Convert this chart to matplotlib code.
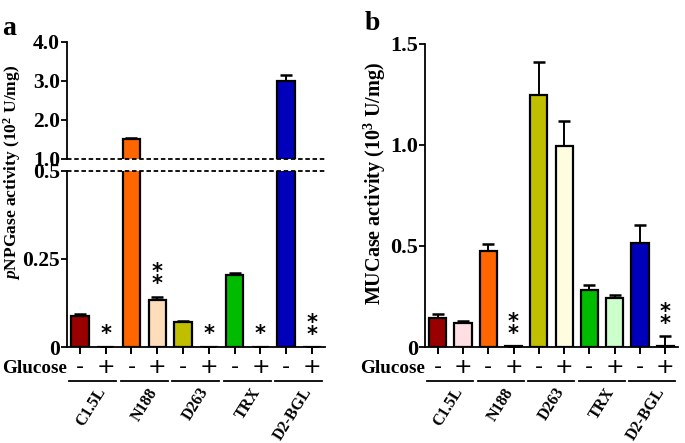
import matplotlib
matplotlib.use('Agg')
import matplotlib.pyplot as plt
import numpy as np
from matplotlib.transforms import blended_transform_factory, offset_copy

plt.rcParams['font.family'] = 'Liberation Serif'
plt.rcParams['font.weight'] = 'bold'
plt.rcParams['mathtext.fontset'] = 'custom'
plt.rcParams['mathtext.rm'] = 'Liberation Serif:bold'
plt.rcParams['mathtext.bf'] = 'Liberation Serif:bold'
plt.rcParams['mathtext.it'] = 'Liberation Serif:italic:bold'

groups = ['C1.5L', 'N188', 'D263', 'TRX', 'D2-BGL']
glucose = ['-', '+']

# panel a: pNPGase activity (10^2 U/mg)
pnp_minus = [0.088, 1.51, 0.071, 0.204, 3.0]
pnp_minus_err = [0.006, 0.02, 0.003, 0.006, 0.15]
pnp_plus = [0.0, 0.134, 0.0, 0.0, 0.0]
pnp_plus_err = [0.0, 0.009, 0.0, 0.0, 0.0]
pnp_stars = [1, 2, 1, 1, 2]

# panel b: MUCase activity (10^3 U/mg)
muc_minus = [0.144, 0.475, 1.248, 0.282, 0.515]
muc_minus_err = [0.019, 0.035, 0.165, 0.025, 0.09]
muc_plus = [0.119, 0.003, 0.995, 0.243, 0.003]
muc_plus_err = [0.011, 0.0, 0.125, 0.014, 0.051]
muc_stars = [0, 2, 0, 0, 2]

minus_colors = ['#990000', '#FF6600', '#BFBF00', '#00BB00', '#0000BB']
plus_colors_a = ['#FFE0E0', '#FFDDBB', '#FFFFE0', '#CCFFCC', '#CCCCFF']
plus_colors_b = ['#FFDFE3', '#FFE0C0', '#FFFDE0', '#CCFFCC', '#CCCCFF']


def interleave(a, b):
    return [v for pair in zip(a, b) for v in pair]


def draw_bars(ax, vals, errs, cols):
    x = np.arange(len(vals))
    ax.bar(x, vals, width=0.68, color=cols, edgecolor='black', linewidth=1.6, zorder=2)
    ax.errorbar(x, vals, yerr=[np.zeros(len(errs)), errs], fmt='none', ecolor='black',
                elinewidth=1.4, capsize=4, capthick=1.8, zorder=1)
    ax.set_xlim(-0.5, len(vals) - 0.5)


def px(fig, ax, dy):
    trans = blended_transform_factory(ax.transData, ax.transAxes)
    return offset_copy(trans, fig=fig, y=dy * 0.72, units='points')


def bottom_decor(fig, ax):
    n = len(groups) * 2
    ax.set_xticks(np.arange(n))
    ax.set_xticklabels([])
    ax.tick_params(axis='x', length=5, width=1.4, direction='out')
    t_sign = px(fig, ax, -20)
    for i in range(n):
        ax.text(i, 0, glucose[i % 2], transform=t_sign, ha='center', va='center',
                fontsize=16, fontweight='normal', family='DejaVu Sans')
    ax.text(-0.5, 0, 'Glucose', transform=px(fig, ax, -21), ha='right', va='center', fontsize=13.8)
    t_line = px(fig, ax, -34)
    t_lab = px(fig, ax, -38)
    for g, name in enumerate(groups):
        ax.plot([2 * g - 0.42, 2 * g + 1.4], [0, 0], color='black', lw=1.3,
                transform=t_line, clip_on=False)
        ax.text(2 * g + 0.6, 0, name, transform=t_lab, ha='right', va='top',
                rotation=58, rotation_mode='anchor', fontsize=11.5)


def stars(fig, ax, vals, errs, counts):
    for g, c in enumerate(counts):
        if c == 0:
            continue
        top = vals[g] + errs[g]
        ax.annotate('\n'.join(['*'] * c), (2 * g + 1, top), xytext=(0, (13 + 5.5 * (c - 1)) * 0.72),
                    textcoords='offset points', ha='center', va='center', linespacing=0.5,
                    fontsize=15, fontweight='bold', family='DejaVu Sans')


fig = plt.figure(figsize=(6.85, 4.43), dpi=100)

# panel a, broken axis
axt = fig.add_axes([0.0978, 0.6411, 0.3766, 0.2641])
axb = fig.add_axes([0.0978, 0.2167, 0.3766, 0.3973])
va = interleave(pnp_minus, pnp_plus)
ea = interleave(pnp_minus_err, pnp_plus_err)
ca = interleave(minus_colors, plus_colors_a)
for ax in (axt, axb):
    draw_bars(ax, va, ea, ca)
    ax.spines['top'].set_visible(False)
    ax.spines['right'].set_visible(False)
    for s in ('left', 'bottom'):
        ax.spines[s].set_linewidth(1.3)
    ax.tick_params(axis='y', length=4, width=1.3, labelsize=15.5, pad=1)

axt.set_ylim(1.0, 4.0)
axt.set_yticks([1.0, 2.0, 3.0, 4.0])
axt.set_yticklabels(['1.0', '2.0', '3.0', '4.0'])
axt.spines['bottom'].set_visible(False)
axt.set_xticks([])
axt.axhline(1.0, color='black', ls=(0, (2.5, 1.5)), lw=1.3, clip_on=False)

axb.set_ylim(0, 0.5)
axb.set_yticks([0, 0.25, 0.5])
axb.set_yticklabels(['0', '0.25', '0.5'])
axb.axhline(0.5, color='black', ls=(0, (2.5, 1.5)), lw=1.3, clip_on=False, zorder=3)
bottom_decor(fig, axb)
stars(fig, axb, pnp_plus, pnp_plus_err, pnp_stars)

fig.text(0.017, 0.61, r'$\it{p}$NPGase activity (10$^{2}$ U/mg)', rotation=90,
         ha='center', va='center', fontsize=12.5)
fig.text(0.003, 0.965, 'a', fontsize=20, ha='left', va='top')

# panel b
ax2 = fig.add_axes([0.6204, 0.2167, 0.3693, 0.684])
vb = interleave(muc_minus, muc_plus)
eb = interleave(muc_minus_err, muc_plus_err)
cb = interleave(minus_colors, plus_colors_b)
draw_bars(ax2, vb, eb, cb)
ax2.spines['top'].set_visible(False)
ax2.spines['right'].set_visible(False)
for s in ('left', 'bottom'):
    ax2.spines[s].set_linewidth(1.3)
ax2.tick_params(axis='y', length=4, width=1.3, labelsize=16, pad=1)
ax2.set_ylim(0, 1.5)
ax2.set_yticks([0, 0.5, 1.0, 1.5])
ax2.set_yticklabels(['0', '0.5', '1.0', '1.5'])
bottom_decor(fig, ax2)
stars(fig, ax2, muc_plus, muc_plus_err, muc_stars)

fig.text(0.548, 0.585, r'MUCase activity (10$^{3}$ U/mg)', rotation=90,
         ha='center', va='center', fontsize=14.5)
fig.text(0.532, 0.975, 'b', fontsize=20, ha='left', va='top')

fig.savefig('out.png', dpi=100)
